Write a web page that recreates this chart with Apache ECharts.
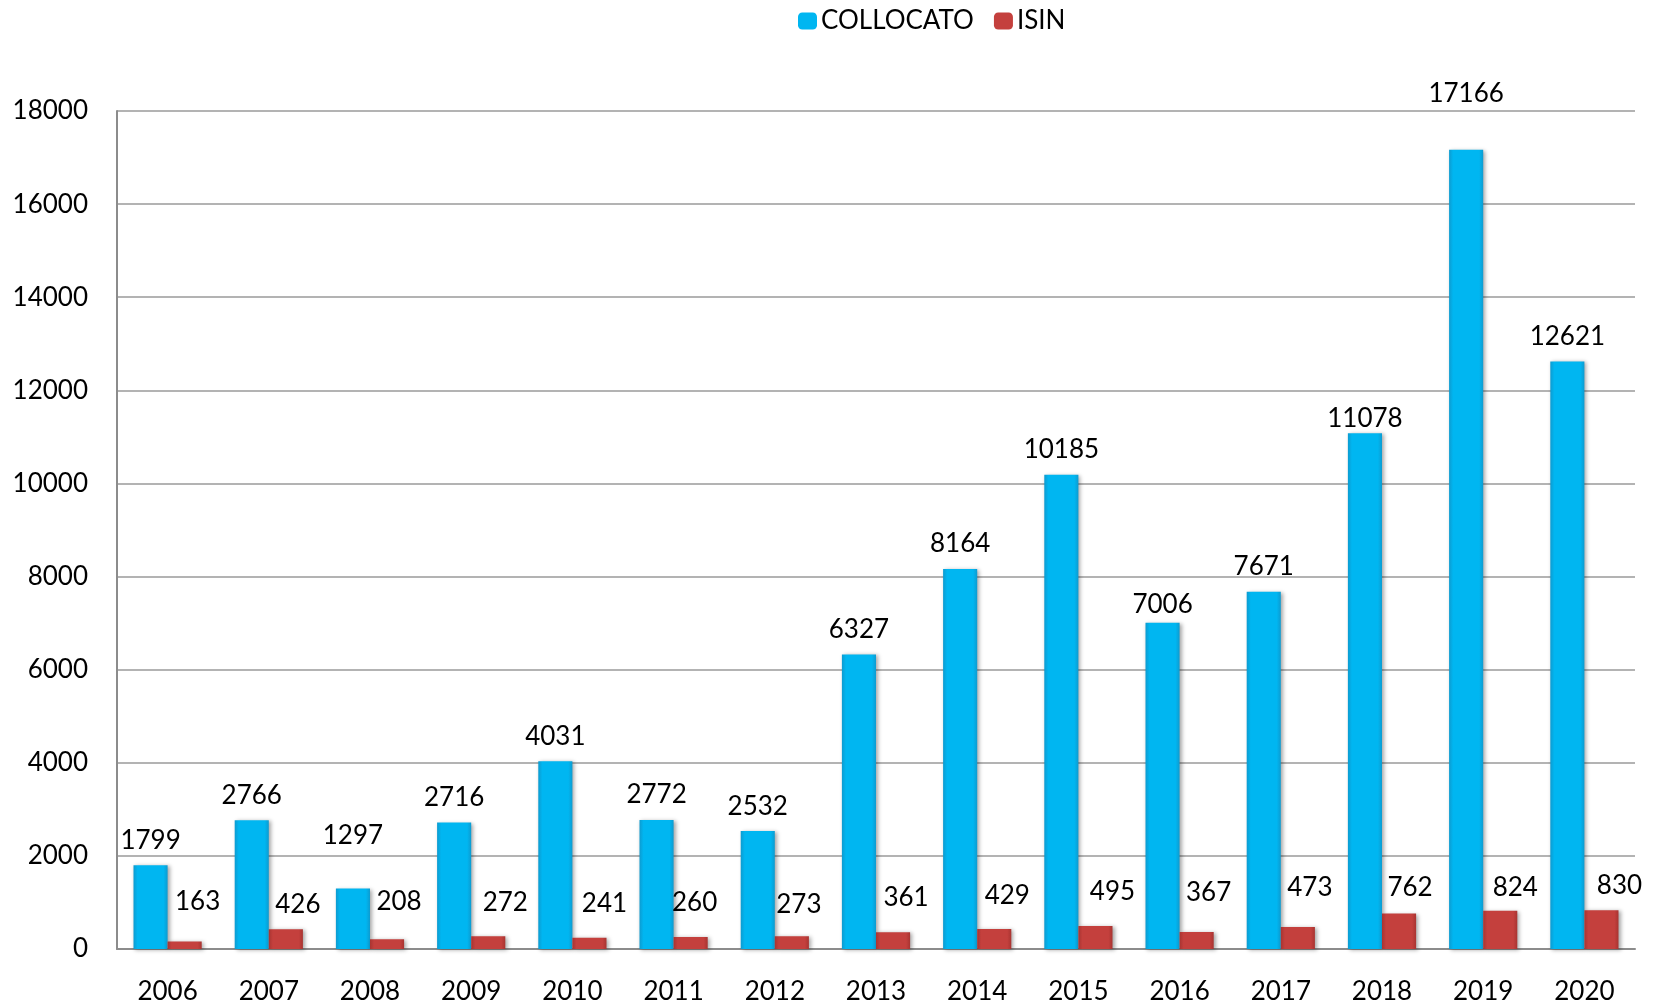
<!DOCTYPE html>
<html>
<head>
<meta charset="utf-8">
<script src="https://cdn.jsdelivr.net/npm/echarts@6/dist/echarts.min.js"></script>
<style>
html,body{margin:0;padding:0;background:#fff;}
#chart{width:1661px;height:1005px;}
</style>
</head>
<body>
<div id="chart"></div>
<script>
const years = ['2006','2007','2008','2009','2010','2011','2012','2013','2014','2015','2016','2017','2018','2019','2020'];
const collocato = [1799,2766,1297,2716,4031,2772,2532,6327,8164,10185,7006,7671,11078,17166,12621];
const isin = [163,426,208,272,241,260,273,361,429,495,367,473,762,824,830];
const yTicks = {min:0, max:18000, interval:2000};

// label placement tweaks (pixels), as in the original chart
const collocatoLabelLift = [0,0,28,0,0,0,0,0,0,0,-7,0,-10,31,0];
const isinLabelLift = [15,0,13,9,9,9,7,10,8,9,14,14,1,-2,0];
const isinLabelShift = [13,12,12,17,15,4,7,13,13,17,12,12,11,15,18];

const FONT = 'Lato';
const chart = echarts.init(document.getElementById('chart'), null, {renderer:'canvas'});

const blueGrad = new echarts.graphic.LinearGradient(0,0,1,0,[
  {offset:0,color:'#0d9bd0'},{offset:0.12,color:'#00b6f1'},
  {offset:0.88,color:'#00b6f1'},{offset:1,color:'#0d9bd0'}]);
const redGrad = new echarts.graphic.LinearGradient(0,0,1,0,[
  {offset:0,color:'#a83431'},{offset:0.12,color:'#c4403d'},
  {offset:0.88,color:'#c4403d'},{offset:1,color:'#a83431'}]);

const labelBase = {show:true, position:'top', distance:10, fontFamily:FONT, fontSize:26, lineHeight:30, color:'#000'};

chart.setOption({
  animation:false,
  textStyle:{fontFamily:FONT},
  legend:{
    left:793, top:3, itemWidth:19, itemHeight:17, itemGap:20,
    textStyle:{fontFamily:FONT, fontSize:26, color:'#000', padding:[0,0,0,-1]},
    data:[{name:'COLLOCATO', itemStyle:{color:'#00b6f1'}},{name:'ISIN', itemStyle:{color:'#c4403d'}}]
  },
  grid:{left:117, right:26, top:111, bottom:56, containLabel:false},
  xAxis:{
    type:'category', data:years,
    axisLine:{lineStyle:{color:'#8c8c8c', width:2}},
    axisTick:{show:false},
    axisLabel:{fontFamily:FONT, fontSize:26, color:'#000', margin:30}
  },
  yAxis:{
    type:'value', min:yTicks.min, max:yTicks.max, interval:yTicks.interval,
    axisLine:{show:true, lineStyle:{color:'#8c8c8c', width:2}},
    axisTick:{show:false},
    splitLine:{lineStyle:{color:'#9a9a9a', width:1.5}},
    axisLabel:{fontFamily:FONT, fontSize:26, color:'#000', margin:29, formatter:(v)=>String(v)}
  },
  series:[
    {
      name:'COLLOCATO', type:'bar', barWidth:'33.7%', barGap:'0%',
      itemStyle:{color:blueGrad, shadowColor:'rgba(0,0,0,0.35)', shadowBlur:4, shadowOffsetX:2, shadowOffsetY:1},
      label:labelBase,
      data:collocato.map((v,i)=>({value:v, label:{offset:[0,-collocatoLabelLift[i]]}}))
    },
    {
      name:'ISIN', type:'bar', barWidth:'33.7%', barGap:'0%',
      itemStyle:{color:redGrad, shadowColor:'rgba(0,0,0,0.35)', shadowBlur:4, shadowOffsetX:2, shadowOffsetY:1},
      label:labelBase,
      data:isin.map((v,i)=>({value:v, label:{offset:[isinLabelShift[i],-isinLabelLift[i]]}}))
    }
  ]
});
</script>
</body>
</html>
